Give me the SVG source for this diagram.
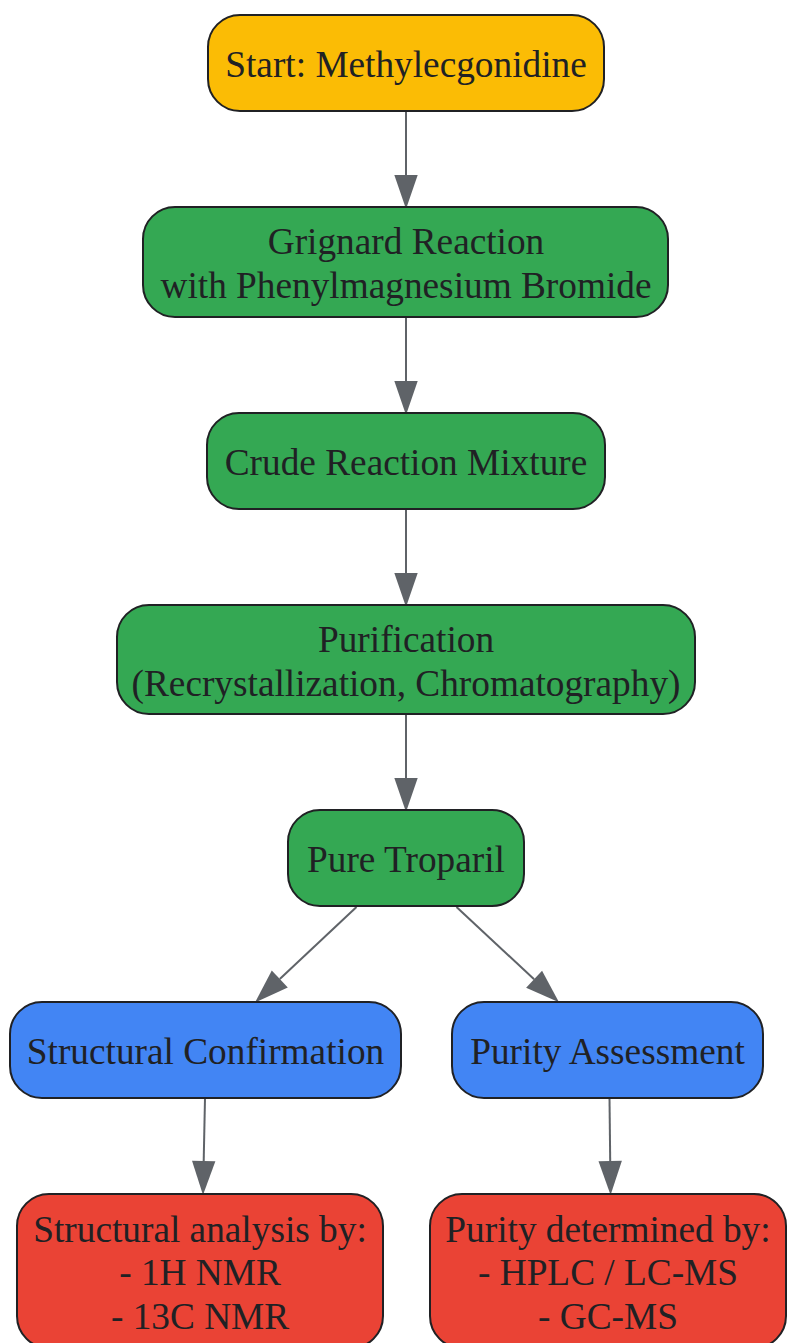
<svg xmlns="http://www.w3.org/2000/svg" width="788" height="1343" viewBox="0 0 788 1343">
<style>
.node rect{stroke:#202124;stroke-width:2}
.y rect{fill:#FBBC05}
.g rect{fill:#34A853}
.b rect{fill:#4285F4}
.r rect{fill:#EA4335}
text{font-family:"Liberation Serif","Times New Roman",serif;font-size:37.3px;fill:#202124;text-anchor:middle}
.edge{stroke:#5F6368;stroke-width:2;fill:none;marker-end:url(#arr)}
</style>
<defs>
<marker id="arr" markerUnits="userSpaceOnUse" markerWidth="34" markerHeight="24" refX="0" refY="11" orient="auto" viewBox="0 0 32 22" overflow="visible">
<path d="M0,0 L32,11 L0,22 z" fill="#5F6368"/>
</marker>
</defs>
<rect width="788" height="1343" fill="#ffffff"/>
<g id="connectors">
<path class="edge" d="M406,111 L406,175"/>
<path class="edge" d="M406,317 L406,381"/>
<path class="edge" d="M406,509 L406,573"/>
<path class="edge" d="M406,714 L406,778"/>
<path class="edge" d="M356.5,907 L279.8,979.1"/>
<path class="edge" d="M456.5,907 L534.1,979.2"/>
<path class="edge" d="M205,1098 L203.7,1161"/>
<path class="edge" d="M609.5,1098 L610.2,1161"/>
</g>
<g id="start" class="node y">
<rect x="208" y="15" width="396" height="96" rx="32"/>
<text x="406" y="77">Start: Methylecgonidine</text>
</g>
<g id="grignard" class="node g">
<rect x="143" y="207" width="525" height="110" rx="32"/>
<text x="406" y="254">Grignard Reaction</text>
<text x="406" y="298">with Phenylmagnesium Bromide</text>
</g>
<g id="crude" class="node g">
<rect x="207" y="413" width="398" height="96" rx="32"/>
<text x="406" y="475">Crude Reaction Mixture</text>
</g>
<g id="purification" class="node g">
<rect x="117" y="605" width="578" height="109" rx="32"/>
<text x="406" y="651.5">Purification</text>
<text x="406" y="695.5">(Recrystallization, Chromatography)</text>
</g>
<g id="pure" class="node g">
<rect x="288" y="810" width="236" height="96" rx="32"/>
<text x="406" y="872">Pure Troparil</text>
</g>
<g id="structural" class="node b">
<rect x="10" y="1002" width="391" height="96" rx="32"/>
<text x="205.5" y="1064">Structural Confirmation</text>
</g>
<g id="purity" class="node b">
<rect x="452" y="1002" width="311" height="96" rx="32"/>
<text x="607.5" y="1064">Purity Assessment</text>
</g>
<g id="structural_analysis" class="node r">
<rect x="17" y="1194" width="366" height="154" rx="32"/>
<text x="200" y="1241.5">Structural analysis by:</text>
<text x="200" y="1285">- 1H NMR</text>
<text x="200" y="1328.5">- 13C NMR</text>
</g>
<g id="purity_determined" class="node r">
<rect x="430" y="1194" width="356" height="154" rx="32"/>
<text x="608" y="1241.5">Purity determined by:</text>
<text x="608" y="1285">- HPLC / LC-MS</text>
<text x="608" y="1328.5">- GC-MS</text>
</g>
</svg>
